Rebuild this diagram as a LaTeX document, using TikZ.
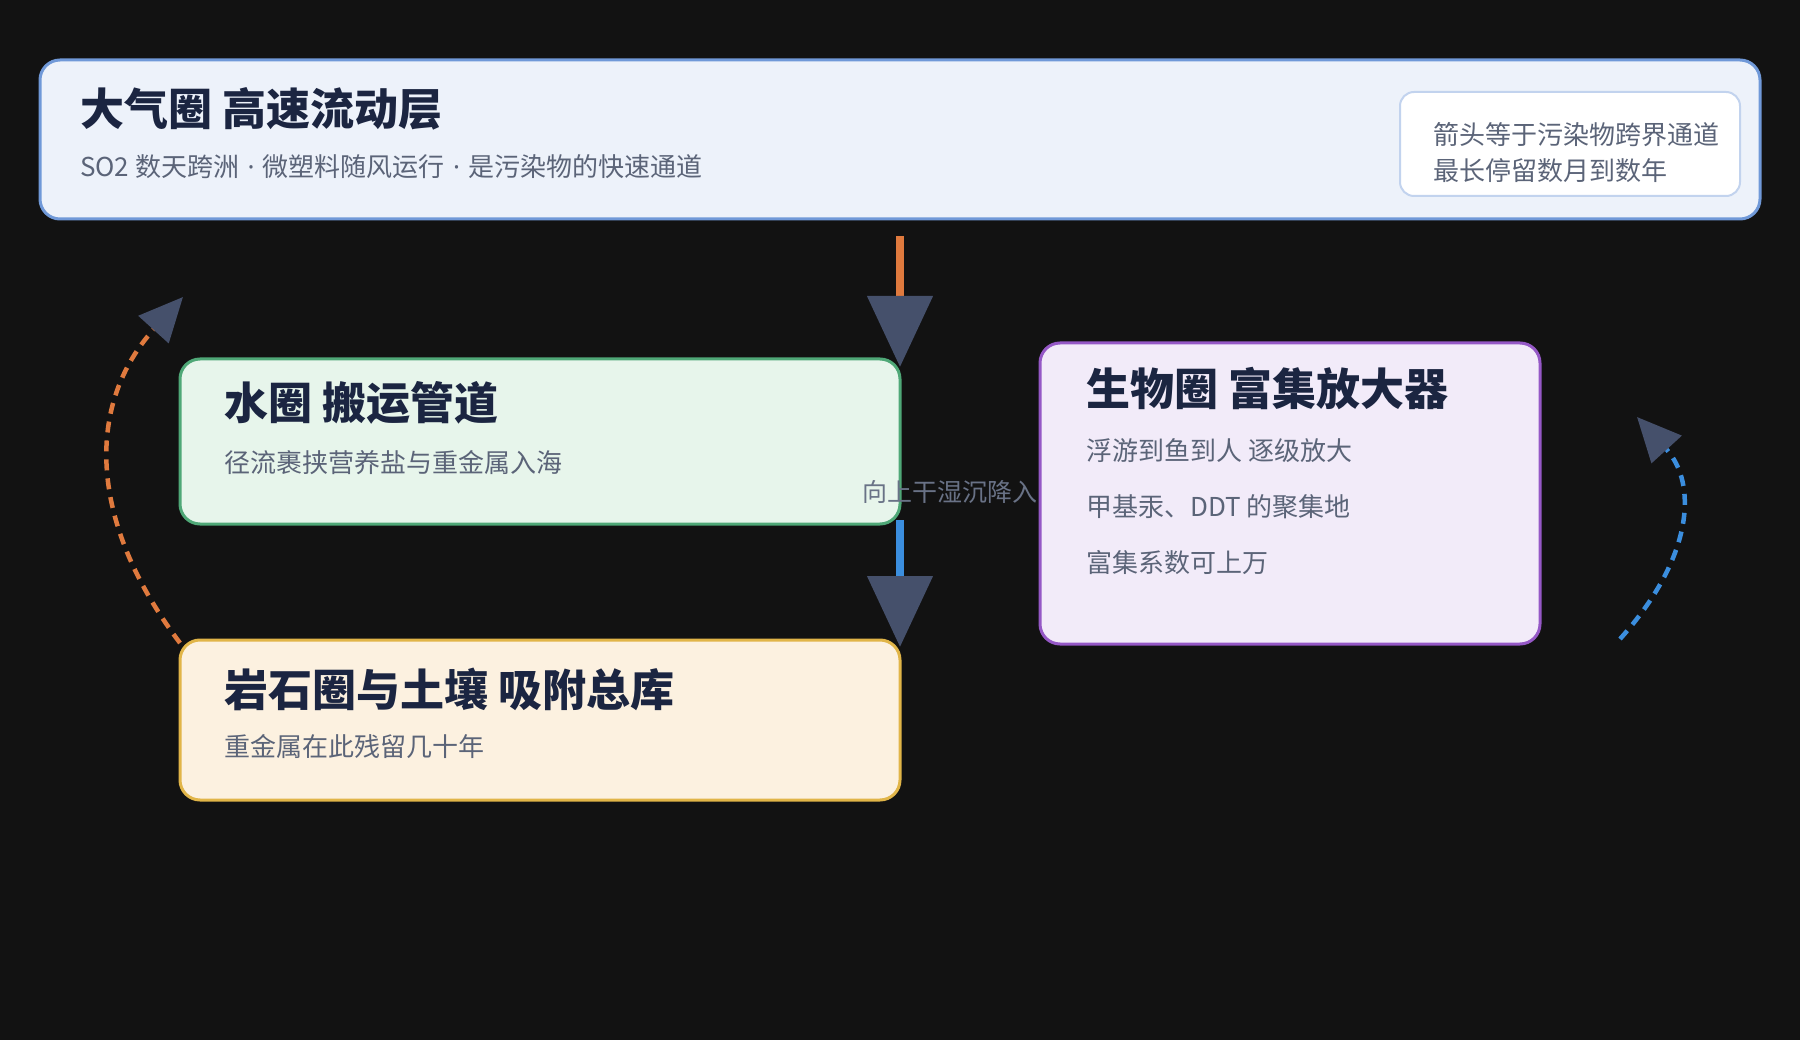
\documentclass[tikz,border=0pt]{standalone}
\usepackage{fontspec}
\setmainfont{Noto Sans CJK SC}
\newfontfamily\latinf{Noto Sans}
\usetikzlibrary{arrows.meta}
\definecolor{bg}{HTML}{121212}
\definecolor{atmfill}{HTML}{EDF2FA}
\definecolor{atmline}{HTML}{7099D8}
\definecolor{noteline}{HTML}{C2D3EE}
\definecolor{watfill}{HTML}{E7F5EB}
\definecolor{watline}{HTML}{4FA877}
\definecolor{rockfill}{HTML}{FCF1E0}
\definecolor{rockline}{HTML}{E1B548}
\definecolor{biofill}{HTML}{F2EBF9}
\definecolor{bioline}{HTML}{9558C6}
\definecolor{titlec}{HTML}{1B2541}
\definecolor{subc}{HTML}{5B6478}
\definecolor{headc}{HTML}{45506B}
\definecolor{orangec}{HTML}{E07A3E}
\definecolor{bluec}{HTML}{3B8EDE}
\definecolor{labelc}{HTML}{697286}
\tikzset{
  box/.style={draw, line width=3pt, rounded corners=20pt, inner sep=0pt},
  ttl/.style={anchor=west, inner sep=0pt, text=titlec, font=\fontsize{44pt}{52pt}\selectfont\bfseries},
  sub/.style={anchor=west, inner sep=0pt, text=subc, font=\fontsize{26pt}{32pt}\selectfont},
  notetxt/.style={anchor=west, inner sep=0pt, text=subc, font=\fontsize{26pt}{36pt}\selectfont, align=left},
  flow/.style={line width=8pt, -{Triangle[length=71pt,width=64pt,color=headc]}},
  cyc/.style={line width=4.5pt, dash pattern=on 11pt off 8pt, -{Triangle[length=44pt,width=40pt,color=headc]}},
}
\newcommand{\mdot}{\hspace{2.5pt}{\latinf ·}\hspace{2.5pt}}
\begin{document}
\begin{tikzpicture}[x=1pt,y=-1pt]
\fill[bg] (0,0) rectangle (1800,1040);
\useasboundingbox (0,0) rectangle (1800,1040);
% boxes
\node[box, draw=atmline, fill=atmfill, minimum width=1720pt, minimum height=159pt] (atm) at (900,139.5) {};
\node[box, draw=noteline, fill=white, line width=2pt, rounded corners=14pt, minimum width=340pt, minimum height=104pt] (note) at (1570,144) {};
\node[box, draw=watline, fill=watfill, minimum width=720pt, minimum height=165pt] (wat) at (540,441.5) {};
\node[box, draw=rockline, fill=rockfill, minimum width=720pt, minimum height=160pt] (rock) at (540,720) {};
\node[box, draw=bioline, fill=biofill, minimum width=500pt, minimum height=301pt] (bio) at (1290,493.5) {};
% texts
\node[ttl] (atmT) at (80,109) {大气圈 高速流动层};
\node[sub] (atmS) at (80,167) {SO2 数天跨洲 \mdot{} 微塑料随风运行 \mdot{} 是污染物的快速通道};
\node[notetxt] (noteT) at (1433,152.5) {箭头等于污染物跨界通道\\最长停留数月到数年};
\node[ttl] (watT) at (224,403) {水圈 搬运管道};
\node[sub] (watS) at (224,463) {径流裹挟营养盐与重金属入海};
\node[ttl] (rockT) at (224,689) {岩石圈与土壤 吸附总库};
\node[sub] (rockS) at (224,747) {重金属在此残留几十年};
\node[ttl] (bioT) at (1086,389) {生物圈 富集放大器};
\node[sub] (bio1) at (1086,451) {浮游到鱼到人 逐级放大};
\node[sub] (bio2) at (1086,507) {甲基汞、DDT 的聚集地};
\node[sub] (bio3) at (1086,563) {富集系数可上万};
% connectors
\coordinate (o1) at (900,236);
\coordinate (o2) at (900,367);
\coordinate (b1) at (900,520);
\coordinate (b2) at (900,647);
\coordinate (l1) at (180,643);
\coordinate (l2) at (183,297);
\coordinate (r1) at (1620,639);
\coordinate (r2) at (1637,417);
\draw[flow, orangec] (o1) -- (o2);
\draw[flow, bluec] (b1) -- (b2);
\draw[cyc, orangec] (l1) .. controls (86,518.3) and (87,403) .. (l2);
\draw[cyc, bluec] (r1) .. controls (1692.7,558.3) and (1698.4,484.3) .. (r2);
\node[inner sep=0pt, text=labelc, font=\fontsize{25pt}{30pt}\selectfont] (lbl) at (950,492) {向上干湿沉降入};
\end{tikzpicture}
\end{document}
